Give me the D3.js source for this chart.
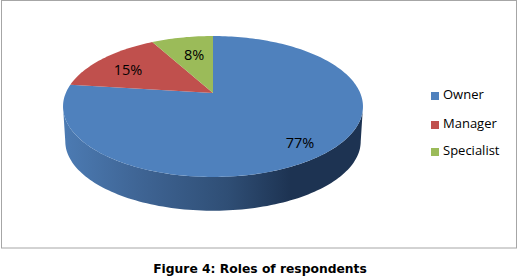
<!DOCTYPE html>
<html>
<head>
<meta charset="utf-8">
<script src="https://cdn.jsdelivr.net/npm/d3@7"></script>
<style>
html, body { margin: 0; padding: 0; background: #fff; }
svg { display: block; }
</style>
</head>
<body>
<div class="painter"></div>
<script>
const categories = ['Owner', 'Manager', 'Specialist']
const shares = [77, 15, 8]
const colors = ['#4f81bd', '#c0504d', '#9bbb59']
const caption = 'Figure 4: Roles of respondents'

const width = 518, height = 277

// tilted disc, the apex is above the middle of the ellipse like in the excel 3d pie
const apexX = 213, apexY = 93
const persp = 0.1915
const scaleU = 147.2, scaleV = 67.9
const depth = 35

function project(a, extra = 0, shrink = 1) {
    let d = 1 + persp * Math.cos(a)
    return [
        apexX + shrink * scaleU * Math.sin(a) / d,
        apexY - shrink * scaleV * Math.cos(a) / d + extra
    ]
}

function arcPoints(a0, a1, extra, shrink) {
    let n = Math.max(2, Math.ceil(Math.abs(a1 - a0) * 40))
    return d3.range(n + 1).map(i => project(a0 + (a1 - a0) * i / n, extra, shrink))
}

let svg = d3.select('.painter').append('svg')
    .attr('width', width)
    .attr('height', height)

let line = d3.line()

// wall shading
let defs = svg.append('defs')
let grad = defs.append('linearGradient')
    .attr('id', 'wall')
    .attr('gradientUnits', 'userSpaceOnUse')
    .attr('x1', 63).attr('x2', 363).attr('y1', 0).attr('y2', 0)
grad.append('stop').attr('offset', '0%').attr('stop-color', '#4c7bb3')
grad.append('stop').attr('offset', '25%').attr('stop-color', '#3f6595')
grad.append('stop').attr('offset', '55%').attr('stop-color', '#2f4e75')
grad.append('stop').attr('offset', '76%').attr('stop-color', '#1d3352')
grad.append('stop').attr('offset', '100%').attr('stop-color', '#1d3352')

// chart frame
svg.append('rect')
    .attr('x', 1.5).attr('y', 0.5)
    .attr('width', 515).attr('height', 247.5)
    .attr('fill', '#fff')
    .attr('stroke', '#a6a6a6')
    .attr('stroke-width', 1)

let pie = d3.pie().value(d => d).sort(null)
let arcs = pie(shares)

// the visible wall: widest point of the disc on the left, round the front, to the right
let edge = Math.acos(-persp)
let front = arcPoints(edge, 2 * Math.PI - edge, 0, 1)
let back = arcPoints(2 * Math.PI - edge, edge, depth, 0.985)
svg.append('path')
    .attr('d', line(front.concat(back)) + 'Z')
    .attr('fill', 'url(#wall)')

// top faces
arcs.forEach((d, i) => {
    let pts = [[apexX, apexY]].concat(arcPoints(d.startAngle, d.endAngle, 0, 1))
    svg.append('path')
        .attr('d', line(pts) + 'Z')
        .attr('fill', colors[i])
})

// value labels, excel does not put them on one radius
let labelShrink = [0.765, 0.773, 0.61]
let labelShift = [6, 5, -3]
arcs.forEach((d, i) => {
    let mid = (d.startAngle + d.endAngle) / 2
    let p = project(mid, labelShift[i], labelShrink[i])
    svg.append('text')
        .attr('x', p[0])
        .attr('y', p[1])
        .attr('text-anchor', 'middle')
        .attr('dominant-baseline', 'middle')
        .attr('font-family', '"Open Sans", sans-serif')
        .attr('font-size', 14.5)
        .attr('fill', '#000')
        .text(d.data + '%')
})

// legend
let legendY = d3.scaleOrdinal().domain(categories).range([96, 125, 152])
categories.forEach((c, i) => {
    svg.append('rect')
        .attr('x', 431).attr('y', legendY(c) - 4)
        .attr('width', 8).attr('height', 8)
        .attr('fill', colors[i])
    svg.append('text')
        .attr('x', 443).attr('y', legendY(c))
        .attr('dominant-baseline', 'middle')
        .attr('font-family', '"Open Sans", sans-serif')
        .attr('font-size', 13)
        .attr('fill', '#000')
        .text(c)
})

svg.append('text')
    .attr('x', 260).attr('y', 273)
    .attr('text-anchor', 'middle')
    .attr('font-family', '"DejaVu Sans", sans-serif')
    .attr('font-weight', 'bold')
    .attr('font-size', 12.3)
    .attr('fill', '#000')
    .text(caption)
</script>
</body>
</html>
